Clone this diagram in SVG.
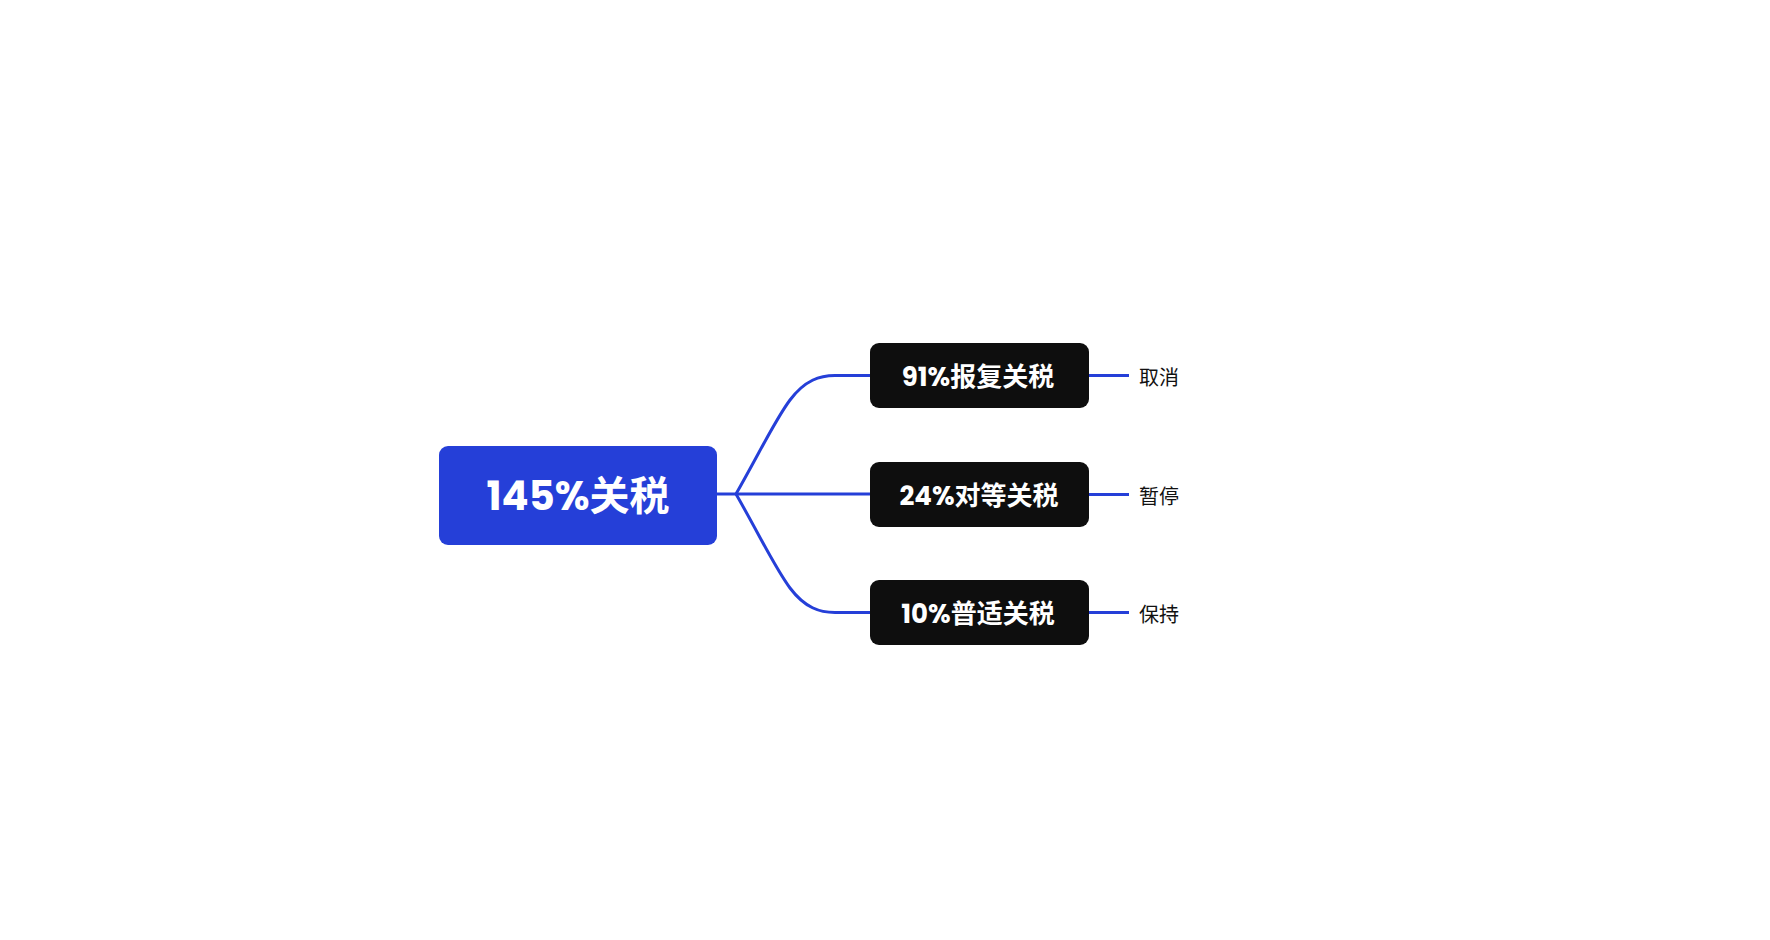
<svg xmlns="http://www.w3.org/2000/svg" width="1770" height="940" viewBox="0 0 1770 940">
<style>
.c{fill:none;stroke:#253fd8;stroke-width:3}
.t{font-family:Poppins,"Noto Sans","Noto Sans CJK SC",sans-serif;font-weight:bold;fill:#fff;text-anchor:middle;dominant-baseline:central}
.l{font-family:"Noto Sans","Noto Sans CJK SC",sans-serif;font-size:20px;fill:#111;dominant-baseline:central}
</style>
<rect width="1770" height="940" fill="#fff"/>
<g id="connectors">
<path class="c" d="M717 494H736"/>
<path class="c" d="M736 494C760 452 775 420 790 400C805 380 820 375.5 835 375.5H870"/>
<path class="c" d="M736 494H870"/>
<path class="c" d="M736 494C760 536 775 568 790 588C805 608 820 612.5 835 612.5H870"/>
<path class="c" d="M1089 375.5H1129M1089 494.5H1129M1089 612.5H1129"/>
</g>
<g id="root"><rect x="439" y="446" width="278" height="99" rx="9" fill="#253fd8"/><text class="t" x="578" y="496" font-size="40">145%关税</text></g>
<g id="n1"><rect x="870" y="343" width="219" height="65" rx="9" fill="#0e0e0e"/><text class="t" x="978" y="377" font-size="26">91%报复关税</text></g>
<g id="n2"><rect x="870" y="462" width="219" height="65" rx="9" fill="#0e0e0e"/><text class="t" x="979" y="496" font-size="26">24%对等关税</text></g>
<g id="n3"><rect x="870" y="580" width="219" height="65" rx="9" fill="#0e0e0e"/><text class="t" x="978" y="614" font-size="26">10%普适关税</text></g>
<g id="l1"><text class="l" x="1139" y="377">取消</text></g>
<g id="l2"><text class="l" x="1139" y="496">暂停</text></g>
<g id="l3"><text class="l" x="1139" y="614">保持</text></g>
</svg>
